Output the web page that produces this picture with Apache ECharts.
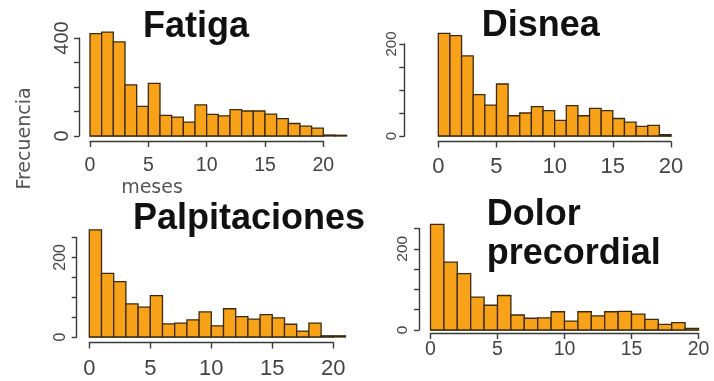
<!DOCTYPE html>
<html>
<head>
<meta charset="utf-8">
<script src="https://cdn.jsdelivr.net/npm/echarts@6/dist/echarts.min.js"></script>
<style>
html,body{margin:0;padding:0;background:#fff;}
#c{width:714px;height:381px;}
</style>
</head>
<body>
<div id="c"></div>
<script>
// ---- data (monthly histogram bins, width 1 month, starting at 0) ----
const titles = ["Fatiga", "Disnea", "Palpitaciones", "Dolor\nprecordial"];
const fatigaVals = [418, 424, 384, 209, 121, 215, 84, 77, 57, 127, 88, 82, 108, 102, 102, 89, 71, 51, 40, 32, 4, 3];
const disneaVals = [223, 218, 174, 90, 67, 113, 44, 50, 64, 55, 34, 66, 44, 60, 55, 38, 30, 21, 23, 3];
const palpVals   = [269, 160, 139, 83, 75, 104, 33, 35, 43, 63, 28, 71, 51, 45, 56, 48, 32, 15, 35, 3, 3];
const dolorVals  = [260, 167, 139, 81, 61, 85, 37, 29, 30, 45, 22, 45, 35, 45, 46, 39, 26, 14, 18, 4];
const xTicks = [0, 5, 10, 15, 20];
const yMax = [400, 200, 250, 250];
const yStep = [100, 50, 50, 50];
const yLabels = [[0, 400], [0, 200], [0, 200], [0, 200]];
const baselineEnd = [23, 20.7, 22, 20];
const yTitle = "Frecuencia";
const xTitle = "meses";

const allVals = [fatigaVals, disneaVals, palpVals, dolorVals];

// ---- layout ----
const grids = [
  {left: 90,    top: 38,    width: 233.3, height: 98},
  {left: 438.3, top: 44,    width: 232.7, height: 92},
  {left: 89.3,  top: 237.5, width: 244,   height: 99.5},
  {left: 430.5, top: 228.5, width: 268,   height: 101.5}
];
const xOff = [5, 5.5, 5.5, 3];
const yOff = [11, 34, 12.6, 11.5];
const xFont = [19.5, 22, 22, 19.5];
const xMargin = [15, 14, 15, 7];
const yFont = [20, 15, 16, 15.5];
const yMargin = [7, 5, 8, 8];

const FILL = '#F7A219';
const STROKE = '#3d2a0c';
const AX = '#3a3a3a';

const option = {
  backgroundColor: '#fff',
  animation: false,
  grid: grids.map(g => Object.assign({}, g)),
  xAxis: grids.map((g, i) => ({
    type: 'value', gridIndex: i, min: xTicks[0], max: xTicks[xTicks.length - 1], interval: 5,
    offset: xOff[i],
    axisLine: {show: true, onZero: false, lineStyle: {color: AX, width: 1.4}},
    axisTick: {show: true, length: 6, lineStyle: {color: AX, width: 1.4}},
    axisLabel: {show: true, color: '#444', fontSize: xFont[i], fontFamily: 'Liberation Sans', margin: xMargin[i]},
    splitLine: {show: false}
  })),
  yAxis: grids.map((g, i) => ({
    type: 'value', gridIndex: i, min: 0, max: yMax[i], interval: yStep[i],
    offset: yOff[i],
    axisLine: {show: true, onZero: false, lineStyle: {color: AX, width: 1.4}},
    axisTick: {show: true, length: 5, lineStyle: {color: AX, width: 1.4}},
    axisLabel: {
      show: true, rotate: 90, color: '#444', fontSize: yFont[i], fontFamily: 'Liberation Sans', margin: yMargin[i],
      formatter: v => (yLabels[i].indexOf(v) >= 0 ? String(v) : '')
    },
    splitLine: {show: false}
  })),
  series: [],
  graphic: []
};

allVals.forEach((vals, i) => {
  option.series.push({
    type: 'line', xAxisIndex: i, yAxisIndex: i, symbol: 'none', silent: true, clip: false,
    lineStyle: {color: '#555', width: 1},
    data: [[0, 0], [baselineEnd[i], 0]],
    z: 1
  });
  option.series.push({
    type: 'custom', xAxisIndex: i, yAxisIndex: i, clip: false, z: 2,
    encode: {x: [0, 1], y: 2},
    data: vals.map((v, k) => [k, k + 1, v]),
    renderItem: (params, api) => {
      const p0 = api.coord([api.value(0), api.value(2)]);
      const p1 = api.coord([api.value(1), 0]);
      return {
        type: 'rect',
        shape: {x: p0[0], y: p0[1], width: p1[0] - p0[0], height: p1[1] - p0[1]},
        style: {fill: FILL, stroke: STROKE, lineWidth: 1.3}
      };
    }
  });
});

const titlePos = [
  {x: 143, y: 27.5},
  {x: 481.7, y: 26},
  {x: 133, y: 219},
  {x: 486.7, y: 215}
];
titles.forEach((t, i) => {
  t.split('\n').forEach((ln, j) => {
    option.graphic.push({
      type: 'text', x: titlePos[i].x, y: titlePos[i].y + j * 39,
      style: {text: ln, fill: '#111', font: 'bold 36px "Liberation Sans", Arial, sans-serif',
              textAlign: 'left', textVerticalAlign: 'middle'}
    });
  });
});
option.graphic.push({
  type: 'text', x: 25, y: 138.5, rotation: Math.PI / 2,
  style: {text: yTitle, fill: '#555', font: '19px "DejaVu Sans", sans-serif', textAlign: 'center', textVerticalAlign: 'middle'}
});
option.graphic.push({
  type: 'text', x: 152, y: 188.5,
  style: {text: xTitle, fill: '#555', font: '19px "DejaVu Sans", sans-serif', textAlign: 'center', textVerticalAlign: 'middle'}
});

const chart = echarts.init(document.getElementById('c'), null, {renderer: 'canvas'});
chart.setOption(option);
</script>
</body>
</html>
